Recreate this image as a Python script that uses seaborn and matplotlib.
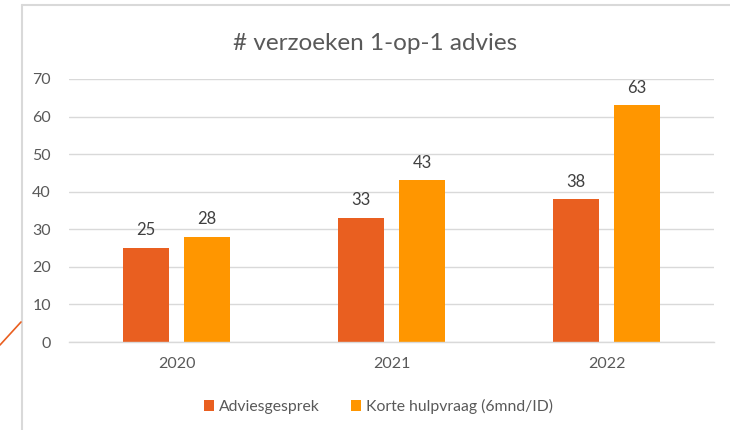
import matplotlib
matplotlib.use("Agg")
import matplotlib.pyplot as plt
from matplotlib.lines import Line2D
import seaborn as sns
import pandas as pd

years = ["2020", "2021", "2022"]
series_names = ["Adviesgesprek", "Korte hulpvraag (6mnd/ID)"]
advies = [25, 33, 38]
korte = [28, 43, 63]
colors = ["#E95F20", "#FF9600"]

df = pd.DataFrame({
    "year": years * 2,
    "serie": [series_names[0]] * 3 + [series_names[1]] * 3,
    "value": advies + korte,
})

sns.set_theme(style="white")
plt.rcParams["font.family"] = ["Lato", "DejaVu Sans"]

fig = plt.figure(figsize=(7.3, 4.3), dpi=100)
ax = fig.add_axes([69/730, 1-342/430, (714-69)/730, (342-79)/430])

sns.barplot(data=df, x="year", y="value", hue="serie", palette=colors,
            width=0.567, gap=0.23, ax=ax, saturation=1, legend=True,
            linewidth=0)

ax.set_ylim(0, 70)
ax.set_xlim(-0.5, 2.5)
ax.set_yticks(range(0, 71, 10))
ax.yaxis.grid(True, color="#D9D9D9", linewidth=1)
ax.set_axisbelow(True)
for s in ["top", "right", "left"]:
    ax.spines[s].set_visible(False)
ax.spines["bottom"].set_color("#D9D9D9")
ax.spines["bottom"].set_linewidth(1)
ax.tick_params(axis="both", length=0, colors="#595959", labelsize=11.5)
ax.tick_params(axis="y", pad=13)
ax.tick_params(axis="x", pad=11)
ax.set_xlabel("")
ax.set_ylabel("")

for cont in ax.containers:
    ax.bar_label(cont, padding=7, color="#404040", fontsize=12)

handles, labels = ax.get_legend_handles_labels()
ax.legend(handles, labels, loc="center", bbox_to_anchor=(0.48, -0.245),
          ncol=2, frameon=False, fontsize=11.3, labelcolor="#595959",
          handlelength=0.65, handleheight=0.65, handletextpad=0.3,
          columnspacing=2.0)

fig.suptitle("# verzoeken 1-op-1 advies", x=375/730, y=1-43/430, va="center",
             fontsize=17.5, color="#595959")

# frame decorations
fig.add_artist(Line2D([22/730, 22/730], [0, 1-5/430], color="#D9D9D9", lw=1.5,
                      transform=fig.transFigure))
fig.add_artist(Line2D([22/730, 1], [1-5/430, 1-5/430], color="#D9D9D9", lw=1.5,
                      transform=fig.transFigure))
fig.add_artist(Line2D([0, 21/730], [1-345/430, 1-322/430], color="#E95F20", lw=1.2,
                      transform=fig.transFigure))

fig.savefig("out.png", dpi=100)
